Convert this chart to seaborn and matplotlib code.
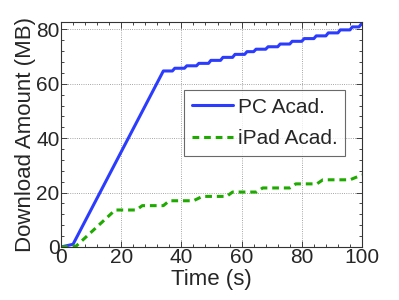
import numpy as np
import pandas as pd
import seaborn as sns
import matplotlib.pyplot as plt
from matplotlib.ticker import AutoMinorLocator

# data (small stair steps after the ramp)
pc_time = [0, 4, 34, 37, 37.8, 41, 41.8, 45, 45.8, 49, 49.8, 53, 53.8, 57, 57.8,
           61, 61.8, 64, 64.8, 68, 68.8, 72, 72.8, 76, 76.8, 80, 80.8, 84, 84.8,
           88, 88.8, 92, 92.8, 96, 96.8, 99, 99.8, 100]
pc_mb = [0, 1, 64.7, 64.7, 65.7, 65.7, 66.6, 66.6, 67.5, 67.5, 68.6, 68.6, 69.7,
         69.7, 70.8, 70.8, 71.8, 71.8, 72.7, 72.7, 73.6, 73.6, 74.6, 74.6, 75.6,
         75.6, 76.6, 76.6, 77.6, 77.6, 78.7, 78.7, 79.8, 79.8, 80.9, 80.9, 82.0, 82.0]
ipad_time = [0, 5, 18, 25, 27, 34, 36, 44, 47, 55, 57, 65, 67, 76, 78, 85, 87, 96, 100]
ipad_mb = [0, 0.3, 13.6, 13.6, 15.2, 15.2, 17.0, 17.0, 18.6, 18.6, 20.2, 20.2,
           21.7, 21.7, 23.2, 23.2, 24.7, 24.7, 26.5]

sns.set_style('ticks')
plt.rcParams['font.family'] = ['Liberation Sans', 'DejaVu Sans']

fig = plt.figure(figsize=(3.99, 3.0), dpi=100)
ax = fig.add_axes([61/399, 53/300, 301/399, 225/300])

sns.lineplot(x=pc_time, y=pc_mb, ax=ax, color='#2b3cff', lw=2.2, label='PC Acad.',
             estimator=None, sort=False)
sns.lineplot(x=ipad_time, y=ipad_mb, ax=ax, color='#1faa00', lw=2.2,
             linestyle=(0, (2.2, 1.6)), label='iPad Acad.', estimator=None, sort=False)

ax.set_xlim(0, 100)
ax.set_ylim(0, 82.7)
ax.set_xticks([0, 20, 40, 60, 80, 100])
ax.set_yticks([0, 20, 40, 60, 80])
ax.xaxis.set_minor_locator(AutoMinorLocator(5))
ax.yaxis.set_minor_locator(AutoMinorLocator(5))
ax.tick_params(which='both', direction='in', top=True, right=True, width=0.6)
ax.tick_params(which='major', length=4, labelsize=15, pad=1)
ax.tick_params(which='minor', length=2)
ax.grid(True, which='major', linestyle=':', color='#888888', lw=0.6)
for s in ax.spines.values():
    s.set_linewidth(0.8)
    s.set_color('#333333')

ax.set_xlabel('Time (s)', fontsize=16, labelpad=1)
ax.set_ylabel('Download Amount (MB)', fontsize=16, labelpad=0)

leg = ax.legend(loc='upper right', bbox_to_anchor=(0.977, 0.742), fontsize=15,
                frameon=True, fancybox=False, edgecolor='#444444',
                handlelength=2.0, handletextpad=0.2, borderpad=0.35, labelspacing=0.6)
leg.get_frame().set_linewidth(0.8)

fig.savefig('out.png', dpi=100)
